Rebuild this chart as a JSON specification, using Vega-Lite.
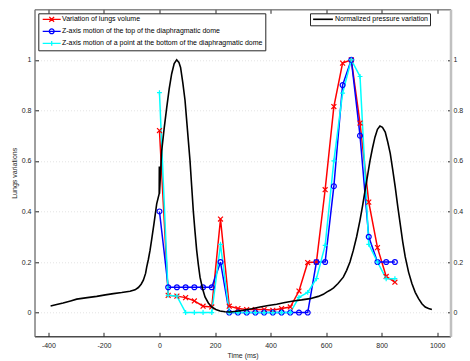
{
  "$schema": "https://vega.github.io/schema/vega-lite/v6.json",
  "width": 416,
  "height": 327,
  "autosize": {"type": "none"},
  "padding": {"left": 34.5, "top": 9.3, "right": 19.5, "bottom": 24.7},
  "background": "white",
  "config": {
    "font": "Liberation Sans",
    "view": {"stroke": "#7f7f7f", "strokeWidth": 1},
    "axis": {
      "labelFont": "Liberation Sans", "labelFontSize": 7, "labelColor": "#262626",
      "titleFont": "Liberation Sans", "titleFontSize": 7, "titleFontWeight": "normal", "titleColor": "#262626",
      "tickColor": "#262626", "domainColor": "#7f7f7f", "grid": false
    },
    "legend": {"labelFont": "Liberation Sans", "labelFontSize": 7, "labelColor": "#000000", "labelLimit": 400}
  },
  "datasets": {
    "lungs": [
      {"t": 0, "s": "Variation of lungs volume", "v": 0.72},
      {"t": 31.4, "s": "Variation of lungs volume", "v": 0.068},
      {"t": 62.8, "s": "Variation of lungs volume", "v": 0.065},
      {"t": 94.2, "s": "Variation of lungs volume", "v": 0.059},
      {"t": 125.6, "s": "Variation of lungs volume", "v": 0.046},
      {"t": 157, "s": "Variation of lungs volume", "v": 0.025},
      {"t": 188.4, "s": "Variation of lungs volume", "v": 0.022},
      {"t": 219.8, "s": "Variation of lungs volume", "v": 0.37},
      {"t": 251.2, "s": "Variation of lungs volume", "v": 0.025},
      {"t": 282.6, "s": "Variation of lungs volume", "v": 0.016},
      {"t": 314, "s": "Variation of lungs volume", "v": 0.012},
      {"t": 345.4, "s": "Variation of lungs volume", "v": 0.012},
      {"t": 376.8, "s": "Variation of lungs volume", "v": 0.012},
      {"t": 408.2, "s": "Variation of lungs volume", "v": 0.009},
      {"t": 439.6, "s": "Variation of lungs volume", "v": 0.016},
      {"t": 471, "s": "Variation of lungs volume", "v": 0.022},
      {"t": 502.4, "s": "Variation of lungs volume", "v": 0.085},
      {"t": 533.8, "s": "Variation of lungs volume", "v": 0.198},
      {"t": 565.2, "s": "Variation of lungs volume", "v": 0.2},
      {"t": 596.6, "s": "Variation of lungs volume", "v": 0.486},
      {"t": 628, "s": "Variation of lungs volume", "v": 0.815},
      {"t": 659.4, "s": "Variation of lungs volume", "v": 0.987},
      {"t": 690.8, "s": "Variation of lungs volume", "v": 1.0},
      {"t": 722.2, "s": "Variation of lungs volume", "v": 0.75},
      {"t": 753.6, "s": "Variation of lungs volume", "v": 0.437},
      {"t": 785, "s": "Variation of lungs volume", "v": 0.257},
      {"t": 816.4, "s": "Variation of lungs volume", "v": 0.143},
      {"t": 847.8, "s": "Variation of lungs volume", "v": 0.12},
      {"t": 0, "s": "Z-axis motion of the top of the diaphragmatic dome", "v": 0.4},
      {"t": 31.4, "s": "Z-axis motion of the top of the diaphragmatic dome", "v": 0.1},
      {"t": 62.8, "s": "Z-axis motion of the top of the diaphragmatic dome", "v": 0.1},
      {"t": 94.2, "s": "Z-axis motion of the top of the diaphragmatic dome", "v": 0.1},
      {"t": 125.6, "s": "Z-axis motion of the top of the diaphragmatic dome", "v": 0.1},
      {"t": 157, "s": "Z-axis motion of the top of the diaphragmatic dome", "v": 0.1},
      {"t": 188.4, "s": "Z-axis motion of the top of the diaphragmatic dome", "v": 0.1},
      {"t": 219.8, "s": "Z-axis motion of the top of the diaphragmatic dome", "v": 0.2},
      {"t": 251.2, "s": "Z-axis motion of the top of the diaphragmatic dome", "v": 0},
      {"t": 282.6, "s": "Z-axis motion of the top of the diaphragmatic dome", "v": 0},
      {"t": 314, "s": "Z-axis motion of the top of the diaphragmatic dome", "v": 0},
      {"t": 345.4, "s": "Z-axis motion of the top of the diaphragmatic dome", "v": 0},
      {"t": 376.8, "s": "Z-axis motion of the top of the diaphragmatic dome", "v": 0},
      {"t": 408.2, "s": "Z-axis motion of the top of the diaphragmatic dome", "v": 0},
      {"t": 439.6, "s": "Z-axis motion of the top of the diaphragmatic dome", "v": 0},
      {"t": 471, "s": "Z-axis motion of the top of the diaphragmatic dome", "v": 0},
      {"t": 502.4, "s": "Z-axis motion of the top of the diaphragmatic dome", "v": 0},
      {"t": 533.8, "s": "Z-axis motion of the top of the diaphragmatic dome", "v": 0},
      {"t": 565.2, "s": "Z-axis motion of the top of the diaphragmatic dome", "v": 0.2},
      {"t": 596.6, "s": "Z-axis motion of the top of the diaphragmatic dome", "v": 0.2},
      {"t": 628, "s": "Z-axis motion of the top of the diaphragmatic dome", "v": 0.5},
      {"t": 659.4, "s": "Z-axis motion of the top of the diaphragmatic dome", "v": 0.9},
      {"t": 690.8, "s": "Z-axis motion of the top of the diaphragmatic dome", "v": 1.0},
      {"t": 722.2, "s": "Z-axis motion of the top of the diaphragmatic dome", "v": 0.7},
      {"t": 753.6, "s": "Z-axis motion of the top of the diaphragmatic dome", "v": 0.3},
      {"t": 785, "s": "Z-axis motion of the top of the diaphragmatic dome", "v": 0.2},
      {"t": 816.4, "s": "Z-axis motion of the top of the diaphragmatic dome", "v": 0.2},
      {"t": 847.8, "s": "Z-axis motion of the top of the diaphragmatic dome", "v": 0.2},
      {"t": 0, "s": "Z-axis motion of a point at the bottom of the diaphragmatic dome", "v": 0.87},
      {"t": 31.4, "s": "Z-axis motion of a point at the bottom of the diaphragmatic dome", "v": 0.068},
      {"t": 62.8, "s": "Z-axis motion of a point at the bottom of the diaphragmatic dome", "v": 0.065},
      {"t": 94.2, "s": "Z-axis motion of a point at the bottom of the diaphragmatic dome", "v": 0},
      {"t": 125.6, "s": "Z-axis motion of a point at the bottom of the diaphragmatic dome", "v": 0},
      {"t": 157, "s": "Z-axis motion of a point at the bottom of the diaphragmatic dome", "v": 0},
      {"t": 188.4, "s": "Z-axis motion of a point at the bottom of the diaphragmatic dome", "v": 0},
      {"t": 219.8, "s": "Z-axis motion of a point at the bottom of the diaphragmatic dome", "v": 0.27},
      {"t": 251.2, "s": "Z-axis motion of a point at the bottom of the diaphragmatic dome", "v": 0},
      {"t": 282.6, "s": "Z-axis motion of a point at the bottom of the diaphragmatic dome", "v": 0},
      {"t": 314, "s": "Z-axis motion of a point at the bottom of the diaphragmatic dome", "v": 0},
      {"t": 345.4, "s": "Z-axis motion of a point at the bottom of the diaphragmatic dome", "v": 0},
      {"t": 376.8, "s": "Z-axis motion of a point at the bottom of the diaphragmatic dome", "v": 0},
      {"t": 408.2, "s": "Z-axis motion of a point at the bottom of the diaphragmatic dome", "v": 0},
      {"t": 439.6, "s": "Z-axis motion of a point at the bottom of the diaphragmatic dome", "v": 0},
      {"t": 471, "s": "Z-axis motion of a point at the bottom of the diaphragmatic dome", "v": 0},
      {"t": 502.4, "s": "Z-axis motion of a point at the bottom of the diaphragmatic dome", "v": 0.06},
      {"t": 533.8, "s": "Z-axis motion of a point at the bottom of the diaphragmatic dome", "v": 0.08},
      {"t": 565.2, "s": "Z-axis motion of a point at the bottom of the diaphragmatic dome", "v": 0.134},
      {"t": 596.6, "s": "Z-axis motion of a point at the bottom of the diaphragmatic dome", "v": 0.266},
      {"t": 628, "s": "Z-axis motion of a point at the bottom of the diaphragmatic dome", "v": 0.6},
      {"t": 659.4, "s": "Z-axis motion of a point at the bottom of the diaphragmatic dome", "v": 0.868},
      {"t": 690.8, "s": "Z-axis motion of a point at the bottom of the diaphragmatic dome", "v": 1.0},
      {"t": 722.2, "s": "Z-axis motion of a point at the bottom of the diaphragmatic dome", "v": 0.934},
      {"t": 753.6, "s": "Z-axis motion of a point at the bottom of the diaphragmatic dome", "v": 0.27},
      {"t": 785, "s": "Z-axis motion of a point at the bottom of the diaphragmatic dome", "v": 0.2},
      {"t": 816.4, "s": "Z-axis motion of a point at the bottom of the diaphragmatic dome", "v": 0.134},
      {"t": 847.8, "s": "Z-axis motion of a point at the bottom of the diaphragmatic dome", "v": 0.134}
    ],
    "pressure": [
      {"t": -392, "p": 0.026}, {"t": -370, "p": 0.032}, {"t": -347, "p": 0.038}, {"t": -320, "p": 0.046},
      {"t": -298, "p": 0.053}, {"t": -260, "p": 0.059}, {"t": -226, "p": 0.064}, {"t": -195, "p": 0.07},
      {"t": -166, "p": 0.075}, {"t": -136, "p": 0.079}, {"t": -106, "p": 0.084}, {"t": -88, "p": 0.09},
      {"t": -76, "p": 0.099}, {"t": -66, "p": 0.112}, {"t": -58, "p": 0.128}, {"t": -50, "p": 0.155},
      {"t": -46, "p": 0.18}, {"t": -40, "p": 0.21}, {"t": -34, "p": 0.246}, {"t": -28, "p": 0.29},
      {"t": -20, "p": 0.35}, {"t": -10, "p": 0.43}, {"t": -1, "p": 0.47}, {"t": -0.5, "p": 0.578},
      {"t": 0, "p": 0.47}, {"t": 4, "p": 0.555}, {"t": 8, "p": 0.64}, {"t": 17, "p": 0.73},
      {"t": 26, "p": 0.81}, {"t": 35, "p": 0.885}, {"t": 44, "p": 0.945}, {"t": 53, "p": 0.985},
      {"t": 62, "p": 1.0}, {"t": 70, "p": 0.99}, {"t": 76, "p": 0.97}, {"t": 84, "p": 0.91},
      {"t": 92, "p": 0.84}, {"t": 101, "p": 0.72}, {"t": 110, "p": 0.6}, {"t": 116, "p": 0.5},
      {"t": 122, "p": 0.4}, {"t": 128, "p": 0.32}, {"t": 134, "p": 0.246}, {"t": 140, "p": 0.19},
      {"t": 146, "p": 0.14}, {"t": 155, "p": 0.095}, {"t": 164, "p": 0.062}, {"t": 176, "p": 0.038},
      {"t": 188, "p": 0.022}, {"t": 203, "p": 0.012}, {"t": 218, "p": 0.006}, {"t": 236, "p": 0.003},
      {"t": 254, "p": 0.002}, {"t": 278, "p": 0.005}, {"t": 302, "p": 0.009}, {"t": 332, "p": 0.015},
      {"t": 362, "p": 0.022}, {"t": 392, "p": 0.028}, {"t": 422, "p": 0.033}, {"t": 452, "p": 0.04},
      {"t": 482, "p": 0.046}, {"t": 512, "p": 0.05}, {"t": 542, "p": 0.055}, {"t": 572, "p": 0.064},
      {"t": 590, "p": 0.072}, {"t": 602, "p": 0.081}, {"t": 614, "p": 0.088}, {"t": 627, "p": 0.098},
      {"t": 643, "p": 0.115}, {"t": 662, "p": 0.14}, {"t": 674, "p": 0.167}, {"t": 686, "p": 0.2},
      {"t": 698, "p": 0.246}, {"t": 710, "p": 0.3}, {"t": 722, "p": 0.365}, {"t": 731, "p": 0.42},
      {"t": 740, "p": 0.48}, {"t": 749, "p": 0.54}, {"t": 758, "p": 0.6}, {"t": 767, "p": 0.65},
      {"t": 776, "p": 0.694}, {"t": 785, "p": 0.725}, {"t": 794, "p": 0.738}, {"t": 803, "p": 0.733},
      {"t": 813, "p": 0.714}, {"t": 822, "p": 0.675}, {"t": 831, "p": 0.63}, {"t": 840, "p": 0.565},
      {"t": 849, "p": 0.496}, {"t": 858, "p": 0.42}, {"t": 867, "p": 0.35}, {"t": 876, "p": 0.28},
      {"t": 885, "p": 0.22}, {"t": 897, "p": 0.16}, {"t": 909, "p": 0.115}, {"t": 921, "p": 0.08},
      {"t": 933, "p": 0.055}, {"t": 945, "p": 0.035}, {"t": 957, "p": 0.022}, {"t": 969, "p": 0.016},
      {"t": 981, "p": 0.012}
    ]
  },
  "layer": [
    {
      "data": {"name": "lungs"},
      "encoding": {
        "x": {
          "field": "t", "type": "quantitative",
          "scale": {"domain": [-450, 1048], "nice": false, "zero": false},
          "axis": {
            "orient": "bottom", "values": [-400, -200, 0, 200, 400, 600, 800, 1000],
            "labelExpr": "'' + datum.value", "tickSize": -4, "labelPadding": 9,
            "domainColor": "#262626", "title": "Time (ms)", "titlePadding": 3
          }
        },
        "y": {
          "field": "v", "type": "quantitative",
          "scale": {"domain": [-0.094, 1.2], "nice": false, "zero": false},
          "axis": {
            "orient": "left", "values": [0, 0.2, 0.4, 0.6, 0.8, 1], "format": "~g",
            "tickSize": -4, "labelPadding": 7.5, "grid": true, "gridColor": "#e3e3e3",
            "gridDash": [1, 2], "gridWidth": 1, "domainColor": "#7f7f7f",
            "title": "Lungs variations", "titlePadding": 4
          }
        },
        "color": {
          "field": "s", "type": "nominal",
          "scale": {
            "domain": ["Variation of lungs volume", "Z-axis motion of the top of the diaphragmatic dome", "Z-axis motion of a point at the bottom of the diaphragmatic dome"],
            "range": ["#ff0000", "#0000ff", "#00ffff"]
          },
          "legend": {
            "orient": "none", "legendX": 3.8, "legendY": 4, "title": null,
            "padding": 2, "rowPadding": 2, "symbolSize": 36, "symbolOffset": 7.4,
            "labelOffset": 6.3, "symbolStrokeWidth": 1.3, "symbolFillColor": "transparent",
            "strokeColor": "#262626", "fillColor": "white", "labelFontSize": 7,
            "encode": {
              "legend": {"update": {"width": {"value": 244}}},
              "symbols": {
                "update": {
                  "shape": {"signal": "datum.value == 'Variation of lungs volume' ? 'M-3,0L3,0M-0.8,-0.8L0.8,0.8M-0.8,0.8L0.8,-0.8' : datum.value == 'Z-axis motion of the top of the diaphragmatic dome' ? 'M-3,0L3,0M0.8,0A0.8,0.8 0 1,1 -0.8,0A0.8,0.8 0 1,1 0.8,0' : 'M-3,0L3,0M0,-0.8L0,0.8'"},
                  "fill": {"value": "transparent"}
                }
              }
            }
          }
        }
      },
      "layer": [
        {"mark": {"type": "line", "strokeWidth": 1.5}},
        {
          "mark": {"type": "point", "filled": false, "strokeWidth": 1.2, "size": 24, "opacity": 1},
          "encoding": {
            "shape": {
              "field": "s", "type": "nominal",
              "scale": {
                "domain": ["Variation of lungs volume", "Z-axis motion of the top of the diaphragmatic dome", "Z-axis motion of a point at the bottom of the diaphragmatic dome"],
                "range": ["M-1,-1L1,1M-1,1L1,-1", "circle", "M-1,0L1,0M0,-1L0,1"]
              },
              "legend": null
            }
          }
        }
      ]
    },
    {
      "data": {"name": "pressure"},
      "mark": {"type": "line", "strokeWidth": 1.6},
      "encoding": {
        "x": {
          "field": "t", "type": "quantitative",
          "scale": {"domain": [-450, 1048], "nice": false, "zero": false},
          "axis": {
            "orient": "top", "values": [-400, -200, 0, 200, 400, 600, 800, 1000],
            "labels": false, "tickSize": -4, "domainColor": "#7f7f7f", "title": null
          }
        },
        "y": {
          "field": "p", "type": "quantitative",
          "scale": {"domain": [-0.094, 1.2], "nice": false, "zero": false},
          "axis": {
            "orient": "right", "values": [0, 0.2, 0.4, 0.6, 0.8, 1], "format": "~g",
            "tickSize": -3, "labelPadding": 5.5, "domainColor": "#c0c0c0", "domainWidth": 2.5,
            "title": null, "grid": false
          }
        },
        "color": {
          "datum": "Normalized pressure variation",
          "scale": {"range": ["#000000"]},
          "legend": {
            "orient": "none", "legendX": 275.5, "legendY": 4, "title": null,
            "padding": 2, "symbolSize": 36, "symbolOffset": 7, "labelOffset": 8,
            "symbolStrokeWidth": 1.6, "strokeColor": "#262626", "fillColor": "white", "labelFontSize": 7,
            "encode": {
              "legend": {"update": {"width": {"value": 132}}},
              "symbols": {"update": {"shape": {"value": "M-3.3,0L3.3,0"}}}
            }
          }
        }
      }
    }
  ],
  "resolve": {"scale": {"x": "independent", "y": "independent", "color": "independent"}}
}
